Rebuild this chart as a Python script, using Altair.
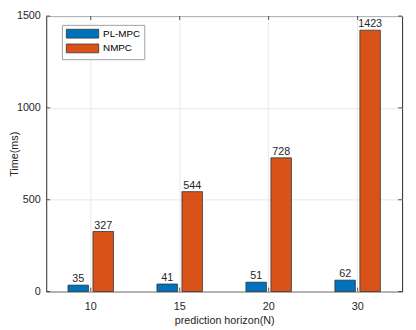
import altair as alt
import pandas as pd

horizons = ["10", "15", "20", "30"]
methods = ["PL-MPC", "NMPC"]
pl_mpc = [35, 41, 51, 62]
nmpc = [327, 544, 728, 1423]
y_ticks = [0, 500, 1000, 1500]
colors = ["#0072BD", "#D95319"]

rows = []
for h, a, b in zip(horizons, pl_mpc, nmpc):
    rows.append({"horizon": h, "method": "PL-MPC", "time": a})
    rows.append({"horizon": h, "method": "NMPC", "time": b})
df = pd.DataFrame(rows)
df_y = pd.DataFrame({"v": y_ticks})
df_x = pd.DataFrame({"horizon": horizons})

W, H = 363, 281
AX = "#262626"

xscale = alt.Scale(domain=horizons, paddingInner=0, paddingOuter=0)
x_enc = alt.X("horizon:N", sort=horizons, scale=xscale,
              axis=alt.Axis(title="prediction horizon(N)", labelAngle=0, ticks=False,
                            domain=False, grid=True, bandPosition=0.5, labelPadding=9,
                            titlePadding=4))
xoff = alt.XOffset("method:N", sort=methods,
                   scale=alt.Scale(domain=methods, paddingInner=0.18, paddingOuter=0.87))
y_enc = alt.Y("time:Q", scale=alt.Scale(domain=[0, 1500], nice=False),
              axis=alt.Axis(values=y_ticks, format="d", title="Time(ms)", grid=True,
                            ticks=False, domain=False, labelPadding=6, titlePadding=-3))

# wide rectangle symbol: unit size 9 px high, 33 px wide
rect_path = "M-3.67,-1L3.67,-1L3.67,1L-3.67,1Z"

bars = alt.Chart(df).mark_bar(stroke="#333333", strokeWidth=0.8).encode(
    x=x_enc,
    xOffset=xoff,
    y=y_enc,
    color=alt.Color("method:N", sort=methods,
                    scale=alt.Scale(domain=methods, range=colors),
                    legend=alt.Legend(title=None, orient="none", legendX=16, legendY=9,
                                      symbolType=rect_path, symbolSize=81,
                                      symbolOffset=12,
                                      symbolStrokeColor="#333333", symbolStrokeWidth=0.8,
                                      fillColor="white", strokeColor="#a0a0a0",
                                      padding=4, labelFontSize=10, rowPadding=1,
                                      labelOffset=16, labelColor="#000000",
                                      labelFontWeight="normal")),
)

labels = alt.Chart(df).mark_text(baseline="bottom", dy=-1, fontSize=11, color=AX).encode(
    x=alt.X("horizon:N", sort=horizons),
    xOffset=alt.XOffset("method:N", sort=methods),
    y=alt.Y("time:Q"),
    text=alt.Text("time:Q"),
)

tick_l = alt.Chart(df_y).mark_rule(color=AX, strokeWidth=0.8).encode(
    y=alt.Y("v:Q"), x=alt.value(0), x2=alt.value(4))
tick_r = alt.Chart(df_y).mark_rule(color=AX, strokeWidth=0.8).encode(
    y=alt.Y("v:Q"), x=alt.value(W - 4), x2=alt.value(W))
tick_b = alt.Chart(df_x).mark_rule(color=AX, strokeWidth=0.8).encode(
    x=alt.X("horizon:N", sort=horizons), y=alt.value(H - 4), y2=alt.value(H))
tick_t = alt.Chart(df_x).mark_rule(color=AX, strokeWidth=0.8).encode(
    x=alt.X("horizon:N", sort=horizons), y=alt.value(0), y2=alt.value(4))

chart = alt.layer(bars, labels, tick_l, tick_r, tick_b, tick_t).properties(
    width=W, height=H,
    autosize=alt.AutoSizeParams(type="none"),
    padding={"left": 39, "top": 5, "right": 6, "bottom": 36},
    background="white",
).configure(
    font="Liberation Sans",
).configure_view(
    stroke=AX, strokeWidth=1,
).configure_axis(
    labelFont="Liberation Sans", titleFont="Liberation Sans",
    labelFontSize=11, titleFontSize=11, labelColor=AX, titleColor=AX,
    titleFontWeight="normal", gridColor="#e3e3e3", gridWidth=0.8,
).configure_legend(
    labelFont="Liberation Sans",
)

chart.save("out.html", embed_options={"renderer": "svg", "actions": False})
